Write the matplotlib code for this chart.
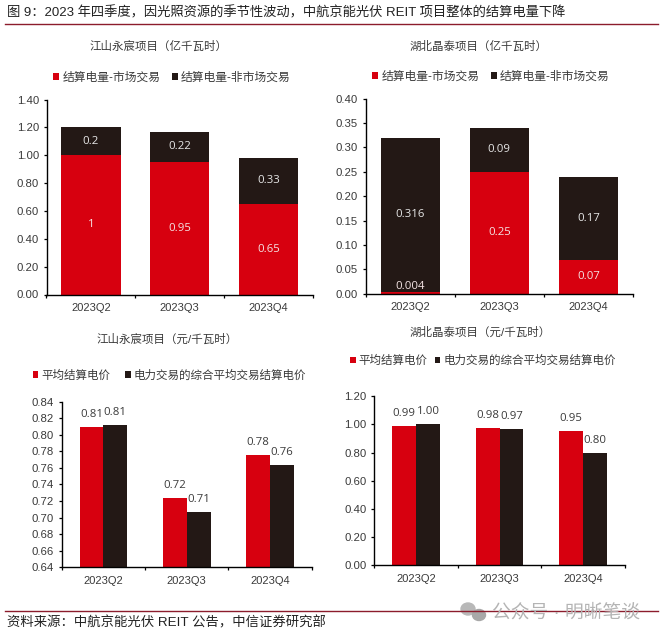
#!/usr/bin/env python3
import matplotlib
matplotlib.use("Agg")
import matplotlib.pyplot as plt
import numpy as np
from matplotlib.lines import Line2D
from matplotlib.patches import Ellipse

plt.rcParams['font.family'] = ['Liberation Sans', 'Noto Sans CJK SC', 'DejaVu Sans']

W, H = 663, 639
RED = '#d7000f'
BLACK = '#231815'
TEXT = '#3a3a3a'
LINE = '#8c1c2c'

quarters = ['2023Q2', '2023Q3', '2023Q4']

market_js = [1, 0.95, 0.65]
nonmarket_js = [0.2, 0.22, 0.33]
market_js_labels = ['1', '0.95', '0.65']
nonmarket_js_labels = ['0.2', '0.22', '0.33']

market_hb = [0.004, 0.25, 0.07]
nonmarket_hb = [0.316, 0.09, 0.17]
market_hb_labels = ['0.004', '0.25', '0.07']
nonmarket_hb_labels = ['0.316', '0.09', '0.17']

avg_js = [0.81, 0.724, 0.776]
trade_js = [0.812, 0.707, 0.764]
avg_js_labels = ['0.81', '0.72', '0.78']
trade_js_labels = ['0.81', '0.71', '0.76']

avg_hb = [0.99, 0.975, 0.955]
trade_hb = [1.0, 0.965, 0.795]
avg_hb_labels = ['0.99', '0.98', '0.95']
trade_hb_labels = ['1.00', '0.97', '0.80']

stack_names = ['结算电量-市场交易', '结算电量-非市场交易']
price_names = ['平均结算电价', '电力交易的综合平均交易结算电价']


def make_axes(left, top, right, bottom):
    ax = fig.add_axes([left / W, 1 - bottom / H, (right - left) / W, (bottom - top) / H])
    ax.spines['top'].set_visible(False)
    ax.spines['right'].set_visible(False)
    ax.spines['left'].set_linewidth(1.0)
    ax.spines['bottom'].set_linewidth(1.0)
    ax.spines['left'].set_color('black')
    ax.spines['bottom'].set_color('black')
    ax.set_xlim(-0.5, 2.5)
    ax.set_xticks([-0.5, 0.5, 1.5, 2.5])
    ax.set_xticklabels([])
    ax.set_xticks([0, 1, 2], minor=True)
    ax.set_xticklabels(quarters, minor=True, fontsize=8, color=TEXT)
    ax.tick_params(axis='x', which='minor', length=0, pad=6)
    ax.tick_params(axis='x', which='major', length=2.5, width=0.9, direction='out')
    ax.tick_params(axis='y', length=2.5, width=0.9, direction='out', labelsize=8.2,
                   labelcolor=TEXT, pad=3)
    return ax


def add_legend(ax, handles, names, cx, cy, spacing, size):
    ax.legend(handles, names, loc='center', bbox_to_anchor=(cx / W, 1 - cy / H),
              bbox_transform=fig.transFigure, ncol=2, frameon=False, fontsize=size,
              labelcolor=TEXT, handlelength=0.5, handleheight=0.5, handletextpad=0.25,
              columnspacing=spacing, borderpad=0, borderaxespad=0)


def stacked(ax, low, high, low_labels, high_labels, ymax, step, min_label):
    x = np.arange(3)
    b1 = ax.bar(x, low, 0.667, color=RED)
    b2 = ax.bar(x, high, 0.667, bottom=low, color=BLACK)
    ax.set_ylim(0, ymax)
    ax.set_yticks(np.arange(0, ymax + step / 2, step))
    ax.set_yticklabels(['%.2f' % v for v in np.arange(0, ymax + step / 2, step)])
    for i in range(3):
        ax.text(x[i], max(low[i] / 2, min_label), low_labels[i], ha='center', va='center',
                color='#f4e4e4', fontsize=8.2, family='Open Sans')
        ax.text(x[i], low[i] + high[i] / 2, high_labels[i], ha='center', va='center',
                color='#e8e8e8', fontsize=8.2, family='Open Sans')
    return b1, b2


def grouped(ax, first, second, first_labels, second_labels, ymin, ymax, ticks):
    x = np.arange(3)
    w = 0.286
    b1 = ax.bar(x - w / 2, first, w, color=RED)
    b2 = ax.bar(x + w / 2, second, w, color=BLACK)
    ax.set_ylim(ymin, ymax)
    ax.set_yticks(ticks)
    ax.set_yticklabels(['%.2f' % v for v in ticks])
    for i in range(3):
        ax.annotate(first_labels[i], (x[i] - w / 2, first[i]), xytext=(0, 9),
                    textcoords='offset points', ha='center', va='center',
                    color=TEXT, fontsize=8.2, family='Open Sans')
        ax.annotate(second_labels[i], (x[i] + w / 2, second[i]), xytext=(0, 9),
                    textcoords='offset points', ha='center', va='center',
                    color=TEXT, fontsize=8.2, family='Open Sans')
    return b1, b2


fig = plt.figure(figsize=(W / 100, H / 100), dpi=100, facecolor='white')

# top left
ax1 = make_axes(46.5, 99.5, 313, 294.5)
h = stacked(ax1, market_js, nonmarket_js, market_js_labels, nonmarket_js_labels, 1.4, 0.2, 0)
add_legend(ax1, h, stack_names, 172, 77.5, 1.0, 8.5)

# top right
ax2 = make_axes(365.7, 98.7, 633, 293.7)
h = stacked(ax2, market_hb, nonmarket_hb, market_hb_labels, nonmarket_hb_labels, 0.4, 0.05, 0.014)
add_legend(ax2, h, stack_names, 491, 77, 1.0, 8.5)

# bottom left
ax3 = make_axes(61.7, 401.7, 311.7, 567.3)
h = grouped(ax3, avg_js, trade_js, avg_js_labels, trade_js_labels, 0.64, 0.84,
            np.arange(0.64, 0.8401, 0.02))
add_legend(ax3, h, price_names, 169.5, 375.5, 1.3, 8.3)

# bottom right
ax4 = make_axes(374.3, 396.3, 624.7, 565.3)
h = grouped(ax4, avg_hb, trade_hb, avg_hb_labels, trade_hb_labels, 0, 1.2,
            np.arange(0, 1.201, 0.2))
add_legend(ax4, h, price_names, 483, 361, 0.6, 8.3)

# chart titles
for cx, cy, s in [(159, 46.5, '江山永宸项目（亿千瓦时）'), (478.5, 46.5, '湖北晶泰项目（亿千瓦时）'),
                  (167, 339, '江山永宸项目（元/千瓦时）'), (480, 332, '湖北晶泰项目（元/千瓦时）')]:
    fig.text(cx / W, 1 - cy / H, s, ha='center', va='center', fontsize=8.25, color=TEXT)

# header and footer
fig.text(7 / W, 1 - 12.5 / H, '图 9：2023 年四季度，因光照资源的季节性波动，中航京能光伏 REIT 项目整体的结算电量下降',
         ha='left', va='center', fontsize=9.57, color='#222222')
fig.text(7 / W, 1 - 623 / H, '资料来源：中航京能光伏 REIT 公告，中信证券研究部',
         ha='left', va='center', fontsize=9.6, color='#222222')
fig.add_artist(Line2D([5 / W, 658 / W], [1 - 23.5 / H] * 2, color=LINE, lw=1.0))
fig.add_artist(Line2D([5 / W, 658 / W], [1 - 610.5 / H] * 2, color=LINE, lw=1.0))

# watermark
fig.text(492 / W, 1 - 612.5 / H, '公众号 · 明晰笔谈', ha='left', va='center', fontsize=13.5,
         color='#b4b4b4')
fig.add_artist(Ellipse((468 / W, 1 - 609 / H), 14 / W, 12 / H, color='#b8b8b8',
                       transform=fig.transFigure))
fig.add_artist(Ellipse((479 / W, 1 - 615 / H), 13 / W, 11 / H, color='#a8a8a8',
                       transform=fig.transFigure))

fig.savefig('out.png', dpi=100)
